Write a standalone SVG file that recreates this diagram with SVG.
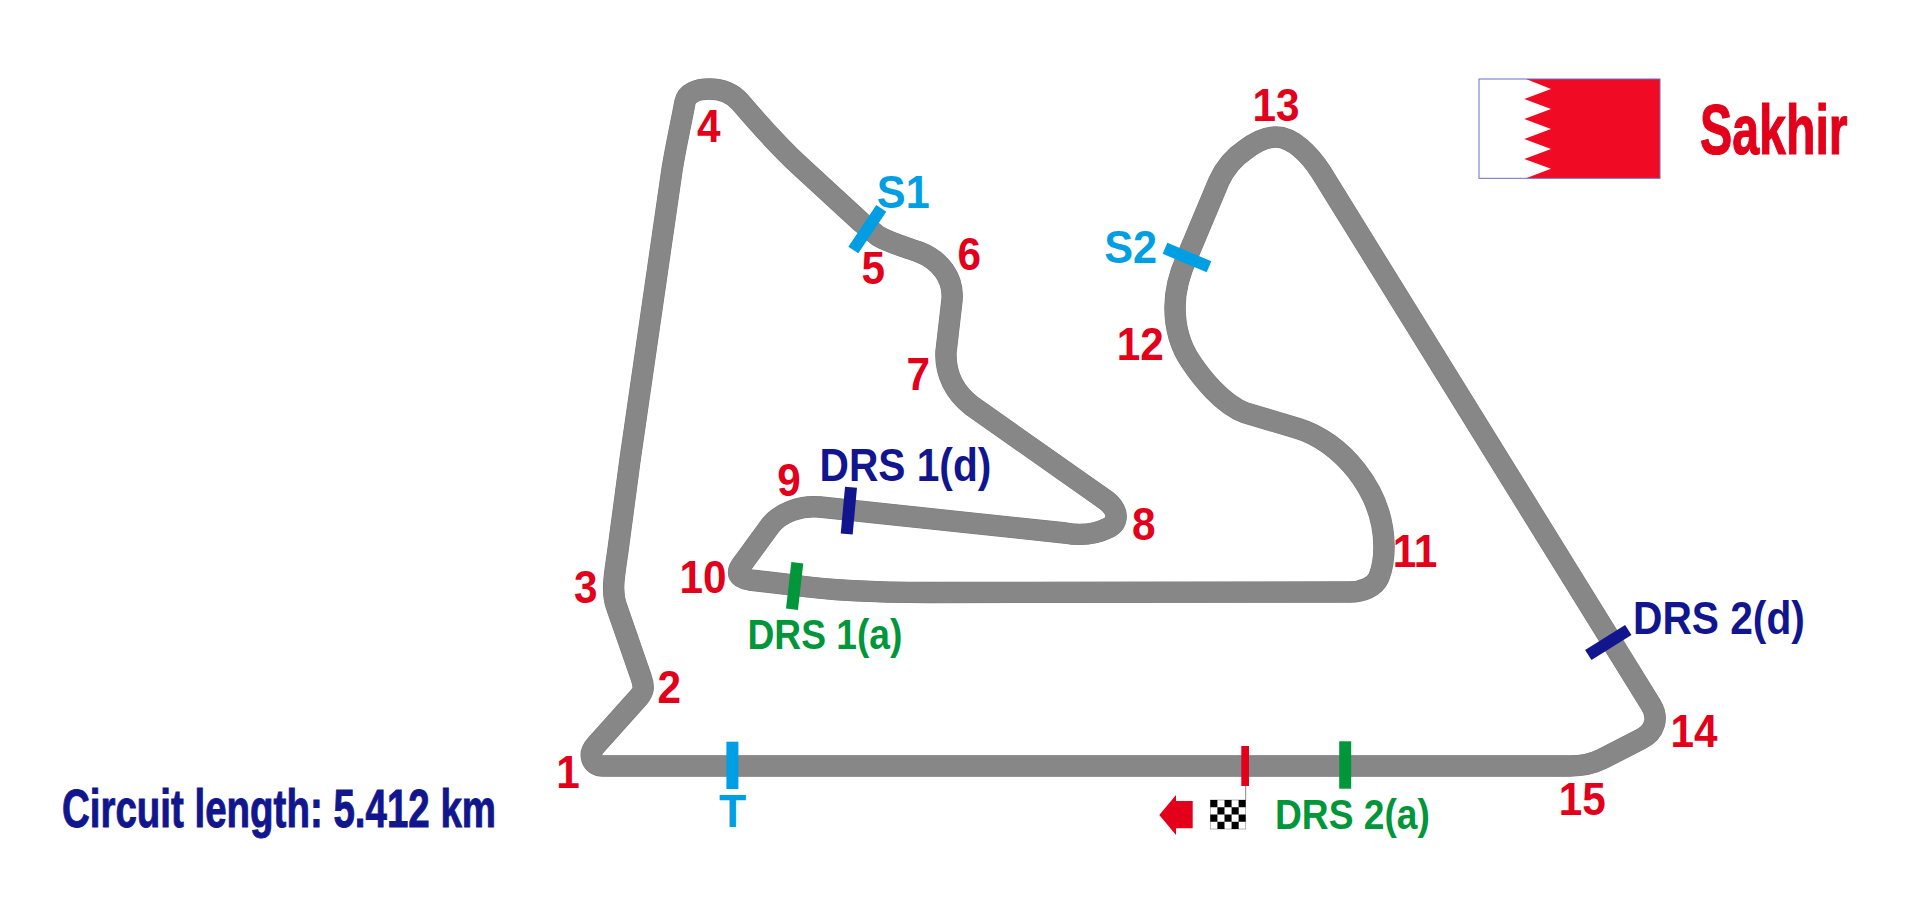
<svg xmlns="http://www.w3.org/2000/svg" xmlns:xlink="http://www.w3.org/1999/xlink" width="1909" height="908" viewBox="0 0 1909 908">
<style>
text{font-family:"Liberation Sans",Arial,sans-serif;font-weight:bold}
.num{font-size:47px;fill:#e2001a;text-anchor:middle}
.sec{font-size:47px;fill:#009fe3;text-anchor:middle}
.drsd{font-size:46.5px;fill:#11168f}
.drsa{font-size:42px;fill:#009639}
.mark{fill:none;stroke-width:12}
.cyan{stroke:#009fe3}.navy{stroke:#11168f}.green{stroke:#009639}
</style>
<defs>
<path id="trackline" d="M603 766 L1570 766 C1582 766 1592 764 1602 759 L1641 739 C1655 732 1659 718 1651 705 L1321 172 C1310 155 1293 137 1276 137 C1265 137 1254 143 1245 150 C1233 158 1225 168 1219 181 L1188 255 C1180 272 1175 288 1175 307 C1175 330 1182 349 1191 362 C1201 377 1222 404 1245 412.7 L1298 428.5 C1340 441 1384 490 1384 547 C1384 556 1383 567 1379 577 C1375 587 1362 592 1350 592 L930 592.5 C890 592.5 840 592 793 585 L750 580 C738 578 735 573 743 563 L770 526 C780 513 800 505 820 507 L1065 533 C1082 536 1096 534 1108 528 C1118 523 1120 512 1107 501 L972 406 C955 393 945 374 946 352 L952 300 C954 278 940 260 919 252 C905 247 890 243 878 236 L862 223 L800 166 C775 143 752 116 740 102 C733 94 722 89 709 89 C697 89 687 93 685 102 C681 124 676 145 672 170 L630 460 L618 550 C615 572 611 590 616 605 L641 677 C645 688 643 692 639 697 L596 745 C587 755 592 766 603 766 Z"/>
</defs>
<rect width="1909" height="908" fill="#ffffff"/>
<g id="connectors" fill="none" stroke-linejoin="round">
<use xlink:href="#trackline" href="#trackline" stroke="#777777" stroke-width="21.4"/>
<use xlink:href="#trackline" href="#trackline" stroke="#878788" stroke-width="20.6"/>
</g>
<g id="marks">
<g id="mark-T"><path class="mark cyan" d="M732.4 741.7V789"/></g>
<g id="mark-S1"><path class="mark cyan" d="M881.3 208.3L853.3 250"/></g>
<g id="mark-S2"><path class="mark cyan" d="M1165 248.3L1209 266.7"/></g>
<g id="mark-drs1d"><path class="mark navy" d="M851 487.3L846.7 534"/></g>
<g id="mark-drs1a"><path class="mark green" d="M797.3 562.7L792 609.3"/></g>
<g id="mark-drs2d"><path class="mark navy" d="M1628.3 630L1588.3 655"/></g>
<g id="mark-drs2a"><path class="mark green" d="M1345.2 741.3V788.7"/></g>
<g id="mark-finish"><rect x="1241.3" y="746" width="7.7" height="40" fill="#e2001a"/><path d="M1245.7 786V800" stroke="#8a8a8a" stroke-width="1" fill="none"/></g>
</g>
<g id="checker-flag">
<rect x="1210.3" y="800" width="35.4" height="29" fill="#fff" stroke="#999" stroke-width=".7"/>
<path fill="#000" d="M1210.3 800h7.1v7.25h-7.1zM1224.5 800h7.1v7.25h-7.1zM1238.6 800h7.1v7.25h-7.1zM1217.4 807.25h7.1v7.25h-7.1zM1231.6 807.25h7.1v7.25h-7.1zM1210.3 814.5h7.1v7.25h-7.1zM1224.5 814.5h7.1v7.25h-7.1zM1238.6 814.5h7.1v7.25h-7.1zM1217.4 821.75h7.1v7.25h-7.1zM1231.6 821.75h7.1v7.25h-7.1z"/>
</g>
<g id="direction-arrow"><polygon fill="#e2001a" points="1159.3,815 1176,795 1176,801 1192.7,801 1192.7,828.3 1176,828.3 1176,835"/></g>
<g id="bahrain-flag">
<rect x="1479" y="79" width="181" height="99.3" fill="#fff"/>
<polygon fill="#f00a23" points="1526,79 1660,79 1660,178.3 1526,178.3 1551,168.7 1524.3,159 1551,149 1524.3,139 1551,129 1524.3,119 1551,109 1524.3,99 1551,89"/>
<rect x="1479" y="79" width="181" height="99.3" fill="none" stroke="#6c6cc8" stroke-width="1"/>
</g>
<g id="labels">
<g id="turn-1"><text class="num" transform="translate(568 788) scale(.9 1)">1</text></g>
<g id="turn-2"><text class="num" transform="translate(669.3 702.5) scale(.9 1)">2</text></g>
<g id="turn-3"><text class="num" transform="translate(585.7 602.5) scale(.9 1)">3</text></g>
<g id="turn-4"><text class="num" transform="translate(708.7 141.7) scale(.9 1)">4</text></g>
<g id="turn-5"><text class="num" transform="translate(873.3 284) scale(.9 1)">5</text></g>
<g id="turn-6"><text class="num" transform="translate(969.3 269.5) scale(.9 1)">6</text></g>
<g id="turn-7"><text class="num" transform="translate(918.3 390) scale(.9 1)">7</text></g>
<g id="turn-8"><text class="num" transform="translate(1143.7 539.5) scale(.9 1)">8</text></g>
<g id="turn-9"><text class="num" transform="translate(789 496) scale(.9 1)">9</text></g>
<g id="turn-10"><text class="num" transform="translate(703 593) scale(.9 1)">10</text></g>
<g id="turn-11"><text class="num" transform="translate(1415 567.3) scale(.9 1)">11</text></g>
<g id="turn-12"><text class="num" transform="translate(1140.3 360) scale(.9 1)">12</text></g>
<g id="turn-13"><text class="num" transform="translate(1276 120.7) scale(.9 1)">13</text></g>
<g id="turn-14"><text class="num" transform="translate(1694 746.7) scale(.9 1)">14</text></g>
<g id="turn-15"><text class="num" transform="translate(1582.3 814.5) scale(.9 1)">15</text></g>
<g id="label-S1"><text class="sec" transform="translate(903.3 208) scale(.92 1)">S1</text></g>
<g id="label-S2"><text class="sec" transform="translate(1130.7 263) scale(.92 1)">S2</text></g>
<g id="label-T"><text class="sec" transform="translate(732.7 827.3) scale(.95 1)">T</text></g>
<g id="label-drs1d"><text class="drsd" transform="translate(819.5 480.7) scale(.875 1)">DRS 1(d)</text></g>
<g id="label-drs1a"><text class="drsa" transform="translate(747.5 649.3) scale(.885 1)">DRS 1(a)</text></g>
<g id="label-drs2d"><text class="drsd" transform="translate(1633 634) scale(.875 1)">DRS 2(d)</text></g>
<g id="label-drs2a"><text class="drsa" transform="translate(1275 829.3) scale(.885 1)">DRS 2(a)</text></g>
<g id="title"><text x="0" y="0" font-size="70" fill="#e2001a" stroke="#e2001a" stroke-width="1.2" transform="translate(1700 154) scale(.69 1)">Sakhir</text></g>
<g id="circuit-length"><text x="0" y="0" font-size="54" fill="#11168f" stroke="#11168f" stroke-width="1" transform="translate(62 827.3) scale(.7126 1)">Circuit length: 5.412 km</text></g>
</g>
</svg>
